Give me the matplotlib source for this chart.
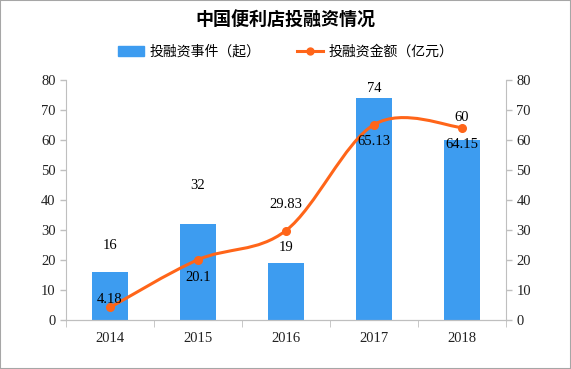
import numpy as np
import matplotlib.pyplot as plt
from matplotlib.path import Path
from matplotlib.patches import PathPatch, Rectangle

plt.rcParams['font.family'] = ['Noto Sans CJK SC', 'DejaVu Sans']

years = ['2014', '2015', '2016', '2017', '2018']
deals = [16, 32, 19, 74, 60]
amount = [4.18, 20.1, 29.83, 65.13, 64.15]
amount_labels = ['4.18', '20.1', '29.83', '65.13', '64.15']

bar_color = '#3d9cf0'
line_color = '#ff6519'
num_font = ['Liberation Serif', 'DejaVu Serif']

fig = plt.figure(figsize=(5.71, 3.69), dpi=100)
fig.patches.append(Rectangle((0, 0), 1, 1, transform=fig.transFigure,
                             fill=False, edgecolor='#a6a6a6', linewidth=1.5))
ax = fig.add_axes([0.1156, 0.1328, 0.7706, 0.6504])
ax2 = ax.twinx()

x = np.arange(len(years))
ax.bar(x, deals, width=0.41, color=bar_color, zorder=2)
ax.set_xlim(-0.5, len(years) - 0.5)
ax.set_ylim(0, 80)
ax2.set_ylim(0, 80)
ax.set_yticks(range(0, 81, 10))
ax2.set_yticks(range(0, 81, 10))

# smoothed line (cardinal spline as bezier segments)
pts = np.column_stack([x, amount])
verts = [tuple(pts[0])]
codes = [Path.MOVETO]
n = len(pts)
for i in range(n - 1):
    p0 = pts[i - 1] if i > 0 else pts[i]
    p1, p2 = pts[i], pts[i + 1]
    p3 = pts[i + 2] if i + 2 < n else pts[i + 1]
    c1 = p1 + (p2 - p0) / 6
    c2 = p2 - (p3 - p1) / 6
    verts += [tuple(c1), tuple(c2), tuple(p2)]
    codes += [Path.CURVE4] * 3
ax2.add_patch(PathPatch(Path(verts, codes), fill=False, edgecolor=line_color,
                        linewidth=2.2, zorder=3))
ax2.plot(x, amount, 'o', color=line_color, markersize=5.5, zorder=4)

# value labels
bar_off = [19, 28, 11, 7, 16.5]
for xi, v, off in zip(x, deals, bar_off):
    ax.annotate(str(v), (xi, v), xytext=(0, off), textcoords='offset points',
                ha='center', va='center', fontsize=10.5, family=num_font)
line_off = [5.4, -13, 19, -12, -12.5]
for xi, v, s, off in zip(x, amount, amount_labels, line_off):
    ax2.annotate(s, (xi, v), xytext=(0, off), textcoords='offset points',
                 ha='center', va='center', fontsize=10.5, family=num_font, zorder=5)

# axes styling
for a in (ax, ax2):
    a.spines['top'].set_visible(False)
    for side in ('left', 'right', 'bottom'):
        a.spines[side].set_color('#bfbfbf')
    a.tick_params(colors='#bfbfbf', labelcolor='#222222', length=4, width=1,
                  labelsize=10.5)
ax.spines['right'].set_visible(False)
ax2.spines['left'].set_visible(False)
ax.set_xticks(x)
ax.set_xticklabels(years, family=num_font)
ax.set_xticks(np.arange(-0.5, len(years)), minor=True)
ax.tick_params(axis='x', which='major', length=0, pad=9)
ax.tick_params(axis='x', which='minor', length=5, color='#bfbfbf')
for lbl in ax.get_yticklabels() + ax2.get_yticklabels():
    lbl.set_family(num_font)

fig.text(0.5, 0.946, '中国便利店投融资情况', ha='center', va='center',
         fontsize=13, fontweight='bold')
h1 = plt.Rectangle((0, 0), 1, 1, color=bar_color)
h2, = ax.plot([], [], '-o', color=line_color, linewidth=2.2, markersize=5)
fig.legend([h1, h2], ['投融资事件（起）', '投融资金额（亿元）'], loc='center',
           bbox_to_anchor=(0.5, 0.859), ncol=2, frameon=False, fontsize=10,
           handlelength=1.9, handleheight=0.7, columnspacing=2.6, handletextpad=0.4)

fig.savefig('out.png', dpi=100)
